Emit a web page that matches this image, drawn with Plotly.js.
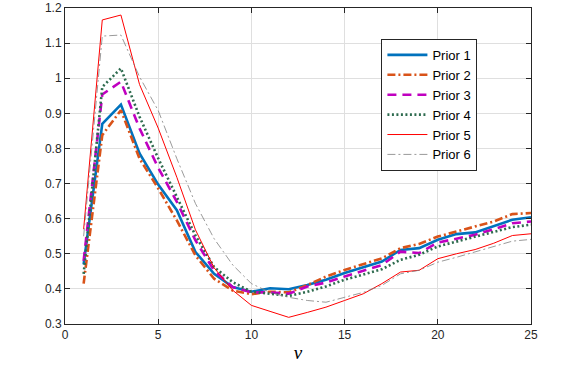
<!DOCTYPE html>
<html>
<head>
<meta charset="utf-8">
<script src="https://cdn.plot.ly/plotly-3.0.1.min.js"></script>
<style>
  html, body { margin: 0; padding: 0; background: #fff; }
  #chart { width: 576px; height: 366px; }
</style>
</head>
<body>
<div id="chart"></div>
<script>
// nu = 1..25
var nu = [1,2,3,4,5,6,7,8,9,10,11,12,13,14,15,16,17,18,19,20,21,22,23,24,25];

var prior1 = [0.470,0.870,0.925,0.786,0.697,0.624,0.505,0.443,0.405,0.392,0.402,0.399,0.411,0.426,0.445,0.461,0.478,0.511,0.516,0.540,0.556,0.561,0.580,0.597,0.604];
var prior2 = [0.415,0.838,0.909,0.771,0.686,0.595,0.495,0.429,0.395,0.385,0.392,0.390,0.411,0.435,0.454,0.470,0.487,0.516,0.528,0.549,0.563,0.578,0.592,0.613,0.616];
var prior3 = [0.480,0.954,0.990,0.857,0.745,0.648,0.538,0.452,0.405,0.390,0.390,0.386,0.407,0.418,0.435,0.452,0.468,0.506,0.502,0.532,0.544,0.554,0.570,0.587,0.592];
var prior4 = [0.443,0.975,1.028,0.890,0.772,0.660,0.552,0.462,0.419,0.392,0.386,0.380,0.392,0.407,0.426,0.440,0.456,0.483,0.497,0.521,0.535,0.549,0.563,0.576,0.583];
var prior5 = [0.570,1.166,1.180,0.982,0.858,0.718,0.568,0.460,0.396,0.353,0.336,0.319,0.333,0.348,0.367,0.386,0.415,0.448,0.453,0.486,0.500,0.512,0.530,0.552,0.557];
var prior6 = [0.550,1.120,1.123,1.004,0.908,0.771,0.643,0.543,0.468,0.415,0.390,0.376,0.367,0.362,0.376,0.390,0.410,0.443,0.453,0.476,0.490,0.505,0.521,0.536,0.541];

var names = ['Prior 1','Prior 2','Prior 3','Prior 4','Prior 5','Prior 6'];
var series = [prior1, prior2, prior3, prior4, prior5, prior6];

var styles = [
  {color: '#0072BD', width: 2.6, dash: 'solid'},
  {color: '#D95319', width: 2.6, dash: '8px,3px,2px,3px'},
  {color: '#C000C0', width: 2.6, dash: '9px,6px'},
  {color: '#2E6B4F', width: 2.6, dash: '2px,2.5px'},
  {color: '#FF0000', width: 1, dash: 'solid'},
  {color: '#808080', width: 0.8, dash: '8px,3px,2px,3px'}
];

var traces = series.map(function (y, i) {
  return {
    x: nu,
    y: y,
    name: names[i],
    type: 'scatter',
    mode: 'lines',
    line: styles[i]
  };
});

var axisCommon = {
  showline: true,
  mirror: 'ticks',
  linecolor: '#262626',
  linewidth: 1,
  ticks: 'inside',
  ticklen: 5,
  tickcolor: '#262626',
  showgrid: true,
  gridcolor: '#dfdfdf',
  gridwidth: 1,
  zeroline: false,
  tickfont: {family: 'Liberation Sans, Arial, sans-serif', size: 12, color: '#262626'}
};

var layout = {
  width: 576,
  height: 366,
  margin: {l: 65, r: 45, t: 8, b: 42},
  paper_bgcolor: '#fff',
  plot_bgcolor: '#fff',
  showlegend: true,
  xaxis: Object.assign({}, axisCommon, {
    range: [0, 25],
    dtick: 5,
    tick0: 0,
    title: {
      text: '<i>ν</i>',
      font: {family: 'Liberation Serif, DejaVu Serif, serif', size: 19, color: '#000'},
      standoff: 4
    }
  }),
  yaxis: Object.assign({}, axisCommon, {
    range: [0.3, 1.2],
    dtick: 0.1,
    tick0: 0.3
  }),
  legend: {
    x: 0.679,
    y: 0.902,
    xanchor: 'left',
    yanchor: 'top',
    bgcolor: '#fff',
    bordercolor: '#262626',
    borderwidth: 1,
    itemwidth: 40,
    font: {family: 'Liberation Sans, Arial, sans-serif', size: 13, color: '#000'},
    tracegroupgap: 0
  }
};

Plotly.newPlot('chart', traces, layout, {displayModeBar: false, staticPlot: true});
</script>
</body>
</html>
